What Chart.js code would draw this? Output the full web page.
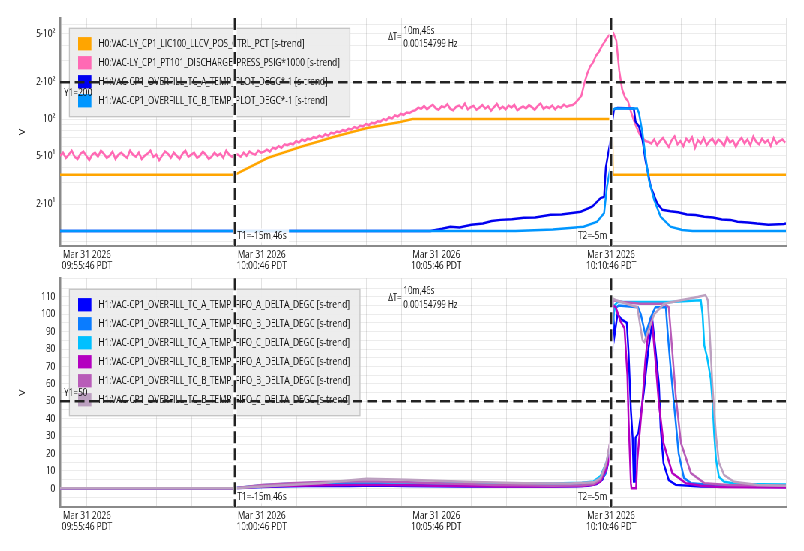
<!DOCTYPE html>
<html lang="en">
<head>
<meta charset="UTF-8" />
<title>s-trend cursors</title>
<script src="https://cdn.jsdelivr.net/npm/chart.js@4"></script>
<style>
  html,body{margin:0;padding:0;overflow:hidden;background:#fff;}
  /* the reference is a screenshot squeezed horizontally, so draw wide and squeeze */
  .page{width:1072px;height:551px;transform:scaleX(0.75);transform-origin:0 0;}
  .page canvas{display:block;}
</style>
</head>
<body>
<div class="page">
  <canvas id="topChart" width="1072" height="275"></canvas>
  <canvas id="bottomChart" width="1072" height="276"></canvas>
</div>

<script>
// times are seconds relative to 10:15:46 PDT
const xMin = -1246, xMax = 0;
const xLabelTimes = [-1200, -900, -600, -300];
const xLabelDates = ['Mar 31 2026', 'Mar 31 2026', 'Mar 31 2026', 'Mar 31 2026'];
const xLabelClock = ['09:55:46 PDT', '10:00:46 PDT', '10:05:46 PDT', '10:10:46 PDT'];
const xGridStep = 60;

const cursorT1 = -946, cursorT2 = -300;
const t1Text = 'T1=-15m,46s', t2Text = 'T2=-5m';
const dtText = ['ΔT=', '10m,46s', '0.00154799 Hz'];

// top panel (log)
const topY1 = 200;
const topMin = 9.1, topMax = 673;
const topGridValues = [10,20,30,40,50,60,70,80,90,100,200,300,400,500,600];
const topTickValues = [20, 50, 100, 200, 500];
const topTickLabels = ['2·10¹', '5·10¹', '10²', '2·10²', '5·10²'];

const topNames = [
  'H0:VAC-LY_CP1_LIC100_LLCV_POS_CTRL_PCT [s-trend]',
  'H0:VAC-LY_CP1_PT101_DISCHARGE_PRESS_PSIG*1000 [s-trend]',
  'H1:VAC-CP1_OVERFILL_TC_A_TEMP_PLOT_DEGC*-1 [s-trend]',
  'H1:VAC-CP1_OVERFILL_TC_B_TEMP_PLOT_DEGC*-1 [s-trend]'
];
const topColors = ['#ffa500', '#ff69b4', '#0000f0', '#0096ff'];

const valvePct = [[-1246,35],[-946,35],[-890,47.9],[-834,58.9],[-777,71.2],[-719,84.4],[-662,94.5],
  [-641,100],[-298,100],[-297,35],[0,35]];

const pressStart = -1246, pressStep = 5;
const pressVals = [
  50,53,48,51,55,49,47,52,54,50,46,51,53,49,55,52,48,50,54,47,51,53,50,48,55,51,49,53,47,50,
  52,55,49,51,46,50,54,52,48,53,50,47,52,55,49,51,53,48,50,54,51,47,49,53,50,52,48,55,51,49,52,
  51,49,53,50,54,52,51,55,53,54,
  56,54,58,57,60,58,62,61,63,62,
  66,64,68,66,69,68,71,70,73,71,
  75,73,77,76,79,78,81,80,83,82,
  86,84,88,87,91,89,93,92,96,95,
  100,98,103,101,107,105,110,108,113,112,116,
  118,124,121,128,120,126,131,122,119,127,125,132,121,118,126,129,123,134,120,125,
  128,119,124,130,122,127,117,125,133,121,126,120,129,124,131,118,123,127,122,130,
  125,119,128,134,121,126,123,129,120,127,124,131,126,129,
  130,136,145,155,195,235,270,290,330,355,395,430,470,495,505,440,250,175,150,140,
  115,98,85,75,70,66,65,
  63,68,61,66,70,64,59,67,72,62,66,60,69,65,71,58,67,63,70,61,
  66,69,62,68,65,60,71,64,67,59,66,70,63,68,61,72,65,62,69,64,
  67,60,70,63,66,68,64
];

const tcAPlot = [[-1246,12.1],[-610,12.1],[-590,12.6],[-576,13.1],[-560,12.9],[-540,13.6],[-520,13.9],
  [-505,14.6],[-490,14.9],[-470,15.1],[-450,15.5],[-430,15.6],[-404,16.4],[-385,16.5],[-370,16.9],
  [-352,17.4],[-332,19.2],[-318,22.5],[-312,23],[-309,40],[-301,67],[-298,95],[-295,120],
  [-289,123],[-261,122],[-258,95],[-252,86.5],[-246,67],[-241,46],[-232,28],[-221,20.4],[-212,18],
  [-198,17.5],[-185,17.2],[-170,16.5],[-155,16.3],[-140,15.8],[-125,15.6],[-110,15],[-95,14.9],
  [-83,14.4],[-65,14.2],[-50,13.9],[-30,13.6],[-3,13.8],[0,13.9]];
const tcBPlot = [[-1246,12.1],[-464,12.1],[-400,12.4],[-347,13.1],[-324,14.4],[-312,16.9],[-307,28],
  [-301,40.6],[-298,118],[-293,122],[-255,122],[-252,111],[-246,76],[-241,49],[-235,31.6],[-226,21.7],
  [-215,15.8],[-198,13.1],[-178,12.3],[-160,12.1],[0,12.1]];

// bottom panel (linear)
const bottomY1 = 50;
const bottomMin = -10.7, bottomMax = 120.6;
const bottomTickValues = [0,10,20,30,40,50,60,70,80,90,100,110];

const bottomNames = [
  'H1:VAC-CP1_OVERFILL_TC_A_TEMP_FIFO_A_DELTA_DEGC [s-trend]',
  'H1:VAC-CP1_OVERFILL_TC_A_TEMP_FIFO_B_DELTA_DEGC [s-trend]',
  'H1:VAC-CP1_OVERFILL_TC_A_TEMP_FIFO_C_DELTA_DEGC [s-trend]',
  'H1:VAC-CP1_OVERFILL_TC_B_TEMP_FIFO_A_DELTA_DEGC [s-trend]',
  'H1:VAC-CP1_OVERFILL_TC_B_TEMP_FIFO_B_DELTA_DEGC [s-trend]',
  'H1:VAC-CP1_OVERFILL_TC_B_TEMP_FIFO_C_DELTA_DEGC [s-trend]'
];
const bottomColors = ['#0000ff', '#0a7cff', '#00c0ff', '#b400c0', '#b85cb8', '#bca0c0'];

const fifoAA = [[-1246,0],[-946,0],[-900,0.8],[-850,1.2],[-800,1.5],[-750,1.3],[-700,1.6],[-650,1.4],
  [-600,1.2],[-550,1.1],[-500,1],[-450,1.1],[-400,1],[-360,1.2],[-340,1.5],[-325,2.5],[-315,5],[-308,10],
  [-303,18],[-299,22],[-297,103],[-294,88],[-289,100],[-282,97],[-273,95],[-270,78],[-266,45],[-263,29],
  [-261,4],[-259,4],[-258,29],[-253,32],[-244,55],[-236,80],[-229,96],[-224,80],[-218,60],[-215,35],
  [-210,14.5],[-201,4.8],[-189,2],[-146,1],[0,0.8]];
const fifoAB = [[-1246,0],[-946,0],[-900,1.5],[-850,2.2],[-780,2.5],[-700,2.3],[-650,2],[-550,1.8],
  [-450,1.8],[-380,1.8],[-340,2.5],[-320,4],[-310,8],[-304,18],[-299,25],[-298,95],[-294,103],[-287,105],
  [-254,104],[-249,100],[-241,88],[-232,98],[-224,104],[-206,104],[-203,90],[-198,70],[-191,45],[-184,20],
  [-175,6],[-163,3],[-129,2],[0,1.8]];
const fifoAC = [[-1246,0],[-946,0],[-900,1.8],[-850,2.8],[-800,3.2],[-750,3.6],[-700,3.5],[-650,3.2],
  [-600,3],[-550,3.2],[-500,3],[-450,2.9],[-400,2.8],[-350,3.2],[-330,4],[-318,7],[-308,15],[-301,25],
  [-298,90],[-294,105],[-289,107],[-200,107],[-146,108],[-143,100],[-140,82],[-135,75],[-129,63],[-126,50],
  [-123,31],[-120,17],[-115,6.7],[-106,3.8],[-83,2.5],[0,2.2]];
const fifoBA = [[-1246,0],[-946,0],[-900,1],[-850,1.5],[-800,1.8],[-750,2],[-700,2],[-650,1.8],
  [-600,1.5],[-550,1.3],[-500,1],[-450,1],[-400,1],[-350,1.3],[-330,2],[-318,4],[-308,11],[-301,20],
  [-297,105],[-292,104],[-284,96],[-277,92],[-272,65],[-270,40],[-266,3],[-265,0],[-257,0],[-255,16],
  [-246,51],[-241,74],[-236,90],[-230,97],[-224,74],[-218,49],[-210,26],[-195,8.8],[-172,3],[-146,1.5],
  [-112,0.8],[0,0.5]];
const fifoBB = [[-1246,0],[-946,0],[-900,2],[-850,3],[-800,3.6],[-750,4],[-700,4],[-650,3.5],[-600,3],
  [-550,2.5],[-500,2],[-450,1.8],[-400,1.5],[-350,1.8],[-330,2.5],[-318,5],[-308,14],[-301,28],[-297,108],
  [-280,107],[-250,106],[-220,106],[-209,106],[-201,104],[-195,79],[-189,53],[-180,26],[-163,8.8],
  [-140,3],[-100,2],[0,1.5]];
const fifoBC = [[-1246,0],[-946,0],[-900,1],[-800,3],[-720,5.5],[-650,5],[-550,3.8],[-450,3],[-370,2.8],
  [-330,3.5],[-318,6],[-308,15],[-302,26],[-297,109],[-292,108],[-255,104],[-246,85],[-243,84],[-226,100],
  [-209,106],[-180,108],[-150,110],[-138,111],[-134,108],[-132,97.5],[-129,78],[-126,59],[-120,30.6],
  [-115,15],[-106,7.6],[-89,3.8],[-49,2],[0,1.5]];

Chart.defaults.font.family = '"Open Sans", sans-serif';
Chart.defaults.font.size = 11;
Chart.defaults.color = '#111';

const FONT = '11px "Open Sans", sans-serif';

function pts(pairs){ return pairs.map(p => ({x: p[0], y: p[1]})); }

function makeSets(names, colors, series){
  return series.map((s, i) => ({
    label: names[i], data: s, borderColor: colors[i], backgroundColor: colors[i],
    borderWidth: 2.5, pointRadius: 0, tension: 0, order: series.length - i
  }));
}

// no extra room for overhanging tick labels: chart area is set by hand
function noPad(s){ s.paddingTop = 0; s.paddingBottom = 0; s.paddingLeft = 0; s.paddingRight = 0; }

// legend box, y1 line, time cursors and their texts
function cursorPlugin(o){
  return {
    id: 'cursors',
    afterDatasetsDraw(chart){
      const {ctx, chartArea: a, scales: {x, y}} = chart;
      const sets = chart.data.datasets;
      ctx.save();
      ctx.font = FONT;
      ctx.textBaseline = 'middle';

      // legend
      const bx = a.left + 12.4, by = a.top + o.legendDy;
      let maxW = 0;
      sets.forEach(d => { maxW = Math.max(maxW, ctx.measureText(d.label).width); });
      const bw = 38.7 + maxW + 13.3, bh = 15.4 + (sets.length - 1) * 19 + 16;
      ctx.fillStyle = 'rgba(236,236,236,0.95)';
      ctx.fillRect(bx, by, bw, bh);
      ctx.strokeStyle = '#c4c4c4';
      ctx.lineWidth = 1.3;
      ctx.strokeRect(bx, by, bw, bh);
      sets.forEach((d, i) => {
        const cy = by + 15.4 + i * 19;
        ctx.fillStyle = d.borderColor;
        ctx.fillRect(bx + 11.6, cy - 6.6, 17.7, 13.3);
        ctx.fillStyle = '#111';
        ctx.fillText(d.label, bx + 38.7, cy);
      });

      // Y1 line
      const yy = y.getPixelForValue(o.y1);
      ctx.strokeStyle = '#222';
      ctx.lineWidth = 2.5;
      ctx.setLineDash([13, 6.5]);
      ctx.beginPath(); ctx.moveTo(a.left, yy); ctx.lineTo(a.right, yy); ctx.stroke();

      // T1 / T2 lines
      const xa = x.getPixelForValue(cursorT1), xb = x.getPixelForValue(cursorT2);
      [xa, xb].forEach(px => {
        ctx.setLineDash([]);
        ctx.strokeStyle = '#fff'; ctx.lineWidth = 5;
        ctx.beginPath(); ctx.moveTo(px, a.top); ctx.lineTo(px, a.bottom); ctx.stroke();
        ctx.setLineDash([12, 5]);
        ctx.strokeStyle = '#222'; ctx.lineWidth = 3;
        ctx.beginPath(); ctx.moveTo(px, a.top); ctx.lineTo(px, a.bottom); ctx.stroke();
      });
      ctx.setLineDash([]);

      // texts
      ctx.fillStyle = '#111';
      ctx.fillText(o.y1Text, a.left + 5.3, yy + o.y1TextDy);

      const ty = a.bottom - 10.5;
      const w1 = ctx.measureText(t1Text).width, w2 = ctx.measureText(t2Text).width;
      ctx.fillStyle = 'rgba(255,255,255,0.85)';
      ctx.fillRect(xa + 1.5, ty - 7, w1 + 5, 14);
      ctx.fillRect(xb - 7 - w2, ty - 7, w2 + 5, 14);
      ctx.fillStyle = '#111';
      ctx.fillText(t1Text, xa + 3.2, ty);
      ctx.textAlign = 'right';
      ctx.fillText(t2Text, xb - 5.3, ty);
      ctx.textAlign = 'left';

      ctx.font = '10.5px "Open Sans", sans-serif';
      const wl = ctx.measureText(dtText[0]).width;
      const wv = Math.max(ctx.measureText(dtText[1]).width, ctx.measureText(dtText[2]).width);
      const sx0 = (xa + xb) / 2 - (wl + 2.2 + wv) / 2;
      ctx.fillText(dtText[0], sx0, a.top + 19.5);
      ctx.fillText(dtText[1], sx0 + wl + 2.2, a.top + 12.7);
      ctx.fillText(dtText[2], sx0 + wl + 2.2, a.top + 26.3);
      ctx.restore();
    }
  };
}

function xAxis(height){
  return {
    type: 'linear', min: xMin, max: xMax,
    afterBuildTicks: s => {
      const t = [];
      for (let v = xLabelTimes[0]; v <= xMax; v += xGridStep) t.push({value: v});
      s.ticks = t;
    },
    afterFit: s => { s.height = height; noPad(s); },
    grid: {color: 'rgba(0,0,0,0.11)', drawTicks: false},
    border: {color: '#8a8a8a', width: 2},
    ticks: {
      autoSkip: false, maxRotation: 0, padding: 3.5, font: {lineHeight: 1.0},
      callback: v => {
        const i = xLabelTimes.indexOf(v);
        return i < 0 ? '' : [xLabelDates[i], xLabelClock[i]];
      }
    }
  };
}

function yTitle(){
  return {display: true, text: 'V', padding: {top: 23, bottom: 0}};
}

new Chart(document.getElementById('topChart'), {
  type: 'line',
  data: {datasets: makeSets(topNames, topColors, [
    pts(valvePct),
    pressVals.map((v, i) => ({x: pressStart + i * pressStep, y: v})),
    pts(tcAPlot),
    pts(tcBPlot)
  ])},
  options: {
    responsive: false, animation: false,
    layout: {padding: {top: 18, right: 24, left: 0, bottom: 0}},
    plugins: {legend: {display: false}, tooltip: {enabled: false}},
    scales: {
      x: xAxis(29),
      y: {
        type: 'logarithmic', min: topMin, max: topMax,
        afterFit: s => { s.width = 80; noPad(s); },
        afterBuildTicks: s => { s.ticks = topGridValues.map(v => ({value: v})); },
        grid: {color: 'rgba(0,0,0,0.075)', drawTicks: false},
        border: {color: '#8a8a8a', width: 2.5},
        title: yTitle(),
        ticks: {
          autoSkip: false, padding: 6.5,
          callback: v => {
            const i = topTickValues.indexOf(v);
            return i < 0 ? '' : topTickLabels[i];
          }
        }
      }
    }
  },
  plugins: [cursorPlugin({y1: topY1, y1Text: 'Y1=200', y1TextDy: 10.7, legendDy: 10.3})]
});

new Chart(document.getElementById('bottomChart'), {
  type: 'line',
  data: {datasets: makeSets(bottomNames, bottomColors,
    [fifoAA, fifoAB, fifoAC, fifoBA, fifoBB, fifoBC].map(pts))},
  options: {
    responsive: false, animation: false,
    layout: {padding: {top: 3.3, right: 24, left: 0, bottom: 0}},
    plugins: {legend: {display: false}, tooltip: {enabled: false}},
    scales: {
      x: xAxis(44),
      y: {
        type: 'linear', min: bottomMin, max: bottomMax,
        afterFit: s => { s.width = 80; noPad(s); },
        grid: {color: 'rgba(0,0,0,0.075)', drawTicks: false},
        border: {color: '#8a8a8a', width: 2.5},
        title: yTitle(),
        ticks: {
          stepSize: 5, autoSkip: false, padding: 6.5,
          callback: v => bottomTickValues.includes(v) ? String(v) : ''
        }
      }
    }
  },
  plugins: [cursorPlugin({y1: bottomY1, y1Text: 'Y1=50', y1TextDy: -8.7, legendDy: 11})]
});
</script>
</body>
</html>
